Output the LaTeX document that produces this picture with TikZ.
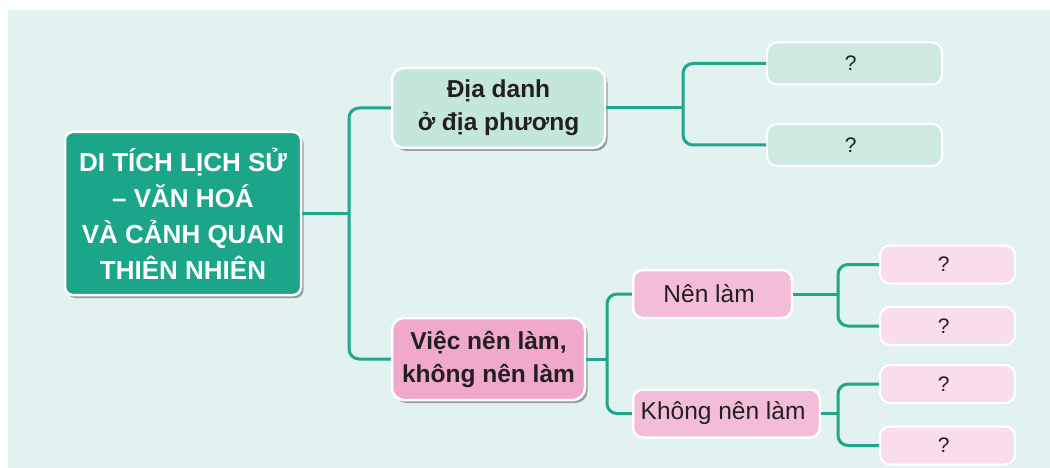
\documentclass[tikz,border=0pt]{standalone}
\usepackage{fontspec}
\setmainfont{Liberation Sans}
\usepackage{tikz}
\usetikzlibrary{shapes,arrows,positioning,shadows}
\definecolor{bgteal}{RGB}{225,242,240}
\definecolor{rootteal}{RGB}{27,165,137}
\definecolor{lineteal}{RGB}{34,166,139}
\definecolor{placeteal}{RGB}{196,230,221}
\definecolor{answerteal}{RGB}{205,233,226}
\definecolor{actionpink}{RGB}{240,168,204}
\definecolor{subpink}{RGB}{243,189,217}
\definecolor{answerpink}{RGB}{250,221,235}
\definecolor{textdark}{RGB}{35,31,32}
\tikzstyle{block} = [rectangle, draw=white, line width=2.5pt, rounded corners=10pt, inner sep=0pt, align=center, text=textdark, font=\fontsize{24.5}{33}\selectfont\bfseries]
\tikzstyle{shadowed} = [drop shadow={shadow xshift=2.5pt, shadow yshift=-3pt, fill=black, opacity=0.35}]
\tikzstyle{mainblock} = [block, shadowed, fill=rootteal, text=white, rounded corners=8pt, minimum width=236pt, minimum height=163pt, font=\fontsize{26}{36}\selectfont\bfseries]
\tikzstyle{topic} = [block, shadowed, rounded corners=12pt]
\tikzstyle{subblock} = [block, fill=subpink, minimum height=48pt, font=\fontsize{24.5}{30}\selectfont]
\tikzstyle{answer} = [block, line width=2pt, minimum height=42pt, font=\fontsize{21}{25}\selectfont]
\tikzstyle{line} = [draw=lineteal, line width=3pt, rounded corners=10pt]

\begin{document}
\begin{tikzpicture}[x=1pt, y=-1pt]
            \useasboundingbox (0,0) rectangle (1050,468);
            \fill[white] (0,0) rectangle (1050,468);
            \fill[bgteal] (8,10) rectangle (1050,468);

            \node[mainblock]                           (heritage) at (183, 213.5){
                DI TÍCH LỊCH SỬ\\– VĂN HOÁ\\VÀ CẢNH QUAN\\THIÊN NHIÊN
            };

            \node[topic, fill=placeteal, minimum width=213pt, minimum height=80pt]          (place_names) at (498.5, 108){
                Địa danh\\ở địa phương
            };
            \node[topic, fill=actionpink, minimum width=193pt, minimum height=82pt]          (actions) at (488.5, 359){
                Việc nên làm,\\không nên làm
            };
            \coordinate (trunk_heritage) at (349, 213.5);
            \path[line] (heritage.east) --                  (trunk_heritage);
            \path[line] (place_names.west) -| (trunk_heritage) |- (actions.west);

            \node[answer, fill=answerteal, minimum width=175pt]            (place_one) at (854.5, 63.5){
                ?
            };
            \node[answer, fill=answerteal, minimum width=175pt, below=37.5pt of place_one]            (place_two){
                ?
            };
            \coordinate (trunk_place) at (683, 108);
            \path[line] (place_names.east) --         (trunk_place);
            \path[line] (place_one.west) -| (trunk_place) |- (place_two.west);

            \node[subblock, minimum width=159pt]   (should_do) at (712.5, 294){
                Nên làm
            };
            \node[subblock, minimum width=187pt]   (should_not) at (726.5, 413.5){
                Không nên làm
            };
            \coordinate (trunk_actions) at (607, 359);
            \path[line] (actions.east) --         (trunk_actions);
            \path[line] (should_do.west) -| (trunk_actions) |- (should_not.west);

            \node[answer, fill=answerpink, minimum width=135pt, minimum height=38pt]   (do_one) at (947.5, 264.5){
                ?
            };
            \node[answer, fill=answerpink, minimum width=135pt, minimum height=38pt, below=21.5pt of do_one]   (do_two){
                ?
            };
            \coordinate (trunk_do) at (838, 294);
            \path[line] (should_do.east) --         (trunk_do);
            \path[line] (do_one.west) -| (trunk_do) |- (do_two.west);

            \node[answer, fill=answerpink, minimum width=135pt, minimum height=38pt]   (dont_one) at (947.5, 384){
                ?
            };
            \node[answer, fill=answerpink, minimum width=135pt, minimum height=38pt, below=21.5pt of dont_one]   (dont_two){
                ?
            };
            \coordinate (trunk_dont) at (838, 413.5);
            \path[line] (should_not.east) --         (trunk_dont);
            \path[line] (dont_one.west) -| (trunk_dont) |- (dont_two.west);
        \end{tikzpicture}
\end{document}
